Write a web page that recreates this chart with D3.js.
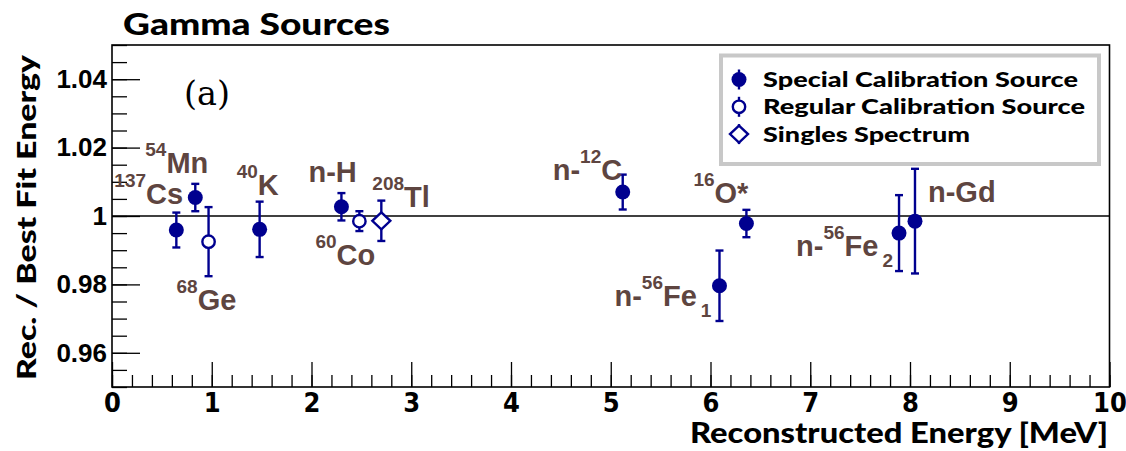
<!DOCTYPE html>
<html>
<head>
<meta charset="utf-8">
<script src="https://cdn.jsdelivr.net/npm/d3@7"></script>
<style>
  body { margin: 0; background: #fff; }
  svg { display: block; }
</style>
</head>
<body>
<svg id="gamma-plot"></svg>
<script>
// data, source order along the energy axis
const sourceNames = ['Cs137', 'Mn54', 'Ge68', 'K40', 'nH', 'Co60', 'Tl208', 'nC12', 'O16', 'nFe56_1', 'nFe56_2', 'nGd']
const energies = [0.645, 0.835, 0.968, 1.48, 2.30, 2.48, 2.70, 5.12, 6.36, 6.09, 7.89, 8.05]
const ratios = [0.9959, 1.0054, 0.9925, 0.9961, 1.0027, 0.9985, 0.9986, 1.0070, 0.9978, 0.9796, 0.9950, 0.9985]
const errors = [0.0051, 0.0040, 0.0101, 0.0081, 0.0040, 0.0029, 0.0059, 0.0051, 0.0040, 0.0103, 0.0111, 0.0153]
const sourceTypes = ['special', 'special', 'regular', 'special', 'special', 'regular', 'singles',
  'special', 'special', 'special', 'special', 'special']
const labelParts = [
  [['sup', '137'], ['main', 'Cs']],
  [['sup', '54'], ['main', 'Mn']],
  [['sup', '68'], ['main', 'Ge']],
  [['sup', '40'], ['main', 'K']],
  [['main', 'n-H']],
  [['sup', '60'], ['main', 'Co']],
  [['sup', '208'], ['main', 'Tl']],
  [['main', 'n-'], ['sup', '12'], ['main', 'C']],
  [['sup', '16'], ['main', 'O*']],
  [['main', 'n-'], ['sup', '56'], ['main', 'Fe'], ['sub', '1']],
  [['main', 'n-'], ['sup', '56'], ['main', 'Fe'], ['sub', '2']],
  [['main', 'n-Gd']]
]
const xTickLabels = [0, 1, 2, 3, 4, 5, 6, 7, 8, 9, 10]
const yTickLabels = [0.96, 0.98, 1, 1.02, 1.04]
const legendLabels = ['Special Calibration Source', 'Regular Calibration Source', 'Singles Spectrum']
const legendTypes = ['special', 'regular', 'singles']

// label placement relative to its point, in px (left edge, main baseline)
const labelOffsets = [
  [-62, -26], [-50, -25], [-32, 68], [-23, -34], [-33, -25], [-44, 44],
  [-9, -14], [-70, -12], [-53, -21], [-105, 20], [-103, 23], [13, -19]
]

const W = 1126, H = 451
const blue = '#00008f'
const labelColor = '#5e4540'
const sansBold = "'Lato', 'DejaVu Sans', sans-serif"
const helv = "'Liberation Sans', Arial, sans-serif"

const svg = d3.select('#gamma-plot').attr('width', W).attr('height', H)
svg.append('rect').attr('width', W).attr('height', H).attr('fill', '#fff')

const frame = { left: 112, right: 1109.5, top: 45, bottom: 387 }
const x = d3.scaleLinear().domain([0, 10]).range([frame.left, frame.right])
const y = d3.scaleLinear().domain([0.95, 1.05]).range([frame.bottom, frame.top])

// minor ticks
svg.append('g')
  .attr('transform', `translate(${frame.left},0)`)
  .call(d3.axisLeft(y).ticks(20).tickSize(-15).tickFormat(''))
  .call(g => g.select('.domain').remove())
svg.append('g')
  .attr('transform', `translate(0,${frame.bottom})`)
  .call(d3.axisBottom(x).ticks(50).tickSize(-12).tickFormat(''))
  .call(g => g.select('.domain').remove())

// major ticks + labels
svg.append('g')
  .attr('transform', `translate(${frame.left},0)`)
  .call(d3.axisLeft(y).tickValues(yTickLabels).tickSize(-28).tickPadding(5)
    .tickFormat(d => d === 1 ? '1' : d3.format('.2f')(d)))
  .call(g => g.select('.domain').remove())
  .call(g => g.selectAll('text')
    .attr('font-family', helv).attr('font-weight', 'bold').attr('font-size', 26).attr('fill', '#000'))

svg.append('g')
  .attr('transform', `translate(0,${frame.bottom})`)
  .call(d3.axisBottom(x).tickValues(xTickLabels).tickSize(-25).tickPadding(6).tickFormat(d3.format('d')))
  .call(g => g.select('.domain').remove())
  .call(g => g.selectAll('text')
    .attr('font-family', "'Liberation Sans Narrow', 'DejaVu Sans Condensed', sans-serif")
    .attr('font-weight', 'bold').attr('font-size', 27).attr('fill', '#000'))

svg.selectAll('.tick line').attr('stroke', '#000').attr('stroke-width', 1.3)

// frame
svg.append('rect')
  .attr('x', frame.left).attr('y', frame.top)
  .attr('width', frame.right - frame.left).attr('height', frame.bottom - frame.top)
  .attr('fill', 'none').attr('stroke', '#000').attr('stroke-width', 1.6)

// reference line at unity
svg.append('line')
  .attr('x1', x(0)).attr('x2', x(10))
  .attr('y1', y(1)).attr('y2', y(1))
  .attr('stroke', '#000').attr('stroke-width', 1.5)

// titles
svg.append('text')
  .attr('x', 123).attr('y', 35)
  .attr('font-family', sansBold).attr('font-weight', 900).attr('font-size', 30)
  .attr('textLength', 267).attr('lengthAdjust', 'spacingAndGlyphs')
  .text('Gamma Sources')

svg.append('text')
  .attr('x', 1108).attr('y', 443)
  .attr('text-anchor', 'end')
  .attr('font-family', sansBold).attr('font-weight', 900).attr('font-size', 28)
  .attr('textLength', 418).attr('lengthAdjust', 'spacingAndGlyphs')
  .text('Reconstructed Energy [MeV]')

svg.append('text')
  .attr('transform', `translate(36,${(55 + 380) / 2}) rotate(-90)`)
  .attr('text-anchor', 'middle')
  .attr('font-family', sansBold).attr('font-weight', 900).attr('font-size', 27)
  .attr('textLength', 325).attr('lengthAdjust', 'spacingAndGlyphs')
  .text('Rec. / Best Fit Energy')

svg.append('text')
  .attr('x', 184).attr('y', 105)
  .attr('font-family', "'DejaVu Serif', 'Liberation Serif', serif").attr('font-size', 34)
  .attr('textLength', 46).attr('lengthAdjust', 'spacingAndGlyphs')
  .text('(a)')

// markers
function drawMarker(g, type) {
  if (type === 'special') {
    g.append('circle').attr('r', 7.5).attr('fill', blue)
  } else if (type === 'regular') {
    g.append('circle').attr('r', 6.2).attr('fill', '#fff').attr('stroke', blue).attr('stroke-width', 2.4)
  } else {
    g.append('path').attr('d', 'M0,-8.5L9,0L0,8.5L-9,0Z')
      .attr('fill', '#fff').attr('stroke', blue).attr('stroke-width', 2.4)
  }
}

const points = energies.map((e, i) => ({
  e, r: ratios[i], err: errors[i], type: sourceTypes[i], parts: labelParts[i], off: labelOffsets[i]
}))

const pts = svg.append('g').selectAll('g').data(points).enter().append('g')

// error bars
pts.append('line')
  .attr('x1', d => x(d.e)).attr('x2', d => x(d.e))
  .attr('y1', d => y(d.r + d.err)).attr('y2', d => y(d.r - d.err))
  .attr('stroke', blue).attr('stroke-width', 2.4)
pts.selectAll('.cap').data(d => [d.r + d.err, d.r - d.err].map(v => ({ e: d.e, v })))
  .enter().append('line')
  .attr('x1', d => x(d.e) - 4).attr('x2', d => x(d.e) + 4)
  .attr('y1', d => y(d.v)).attr('y2', d => y(d.v))
  .attr('stroke', blue).attr('stroke-width', 2.4)

pts.each(function (d) {
  const g = d3.select(this).append('g').attr('transform', `translate(${x(d.e)},${y(d.r)})`)
  drawMarker(g, d.type)
})

// source labels
const labels = svg.append('g').selectAll('text').data(points).enter().append('text')
  .attr('x', d => x(d.e) + d.off[0])
  .attr('y', d => y(d.r) + d.off[1])
  .attr('font-family', helv).attr('font-weight', 'bold').attr('fill', labelColor)

labels.each(function (d) {
  const t = d3.select(this)
  let level = 0
  d.parts.forEach(([kind, str]) => {
    const target = kind === 'sup' ? -17 : kind === 'sub' ? 11 : 0
    t.append('tspan')
      .attr('dy', target - level)
      .attr('dx', kind === 'sub' ? 4 : 0)
      .attr('font-size', kind === 'main' ? 29 : 19)
      .text(str)
    level = target
  })
})

// legend
const legend = svg.append('g')
legend.append('rect')
  .attr('x', 721).attr('y', 55.5).attr('width', 378).attr('height', 108.5)
  .attr('fill', '#fff').attr('stroke', '#c8c8c8').attr('stroke-width', 4)

const rows = legend.selectAll('.row').data(legendLabels).enter().append('g')
  .attr('transform', (_, i) => `translate(739,${79.5 + i * 27.3})`)

rows.append('line')
  .attr('y1', -10).attr('y2', 10)
  .attr('stroke', blue).attr('stroke-width', 2.4)
rows.each(function (_, i) { drawMarker(d3.select(this), legendTypes[i]) })

rows.append('text')
  .attr('x', 24).attr('y', 7.5)
  .attr('font-family', sansBold).attr('font-weight', 900).attr('font-size', 21)
  .attr('textLength', (_, i) => [315, 322, 207][i]).attr('lengthAdjust', 'spacingAndGlyphs')
  .text(d => d)
</script>
</body>
</html>
